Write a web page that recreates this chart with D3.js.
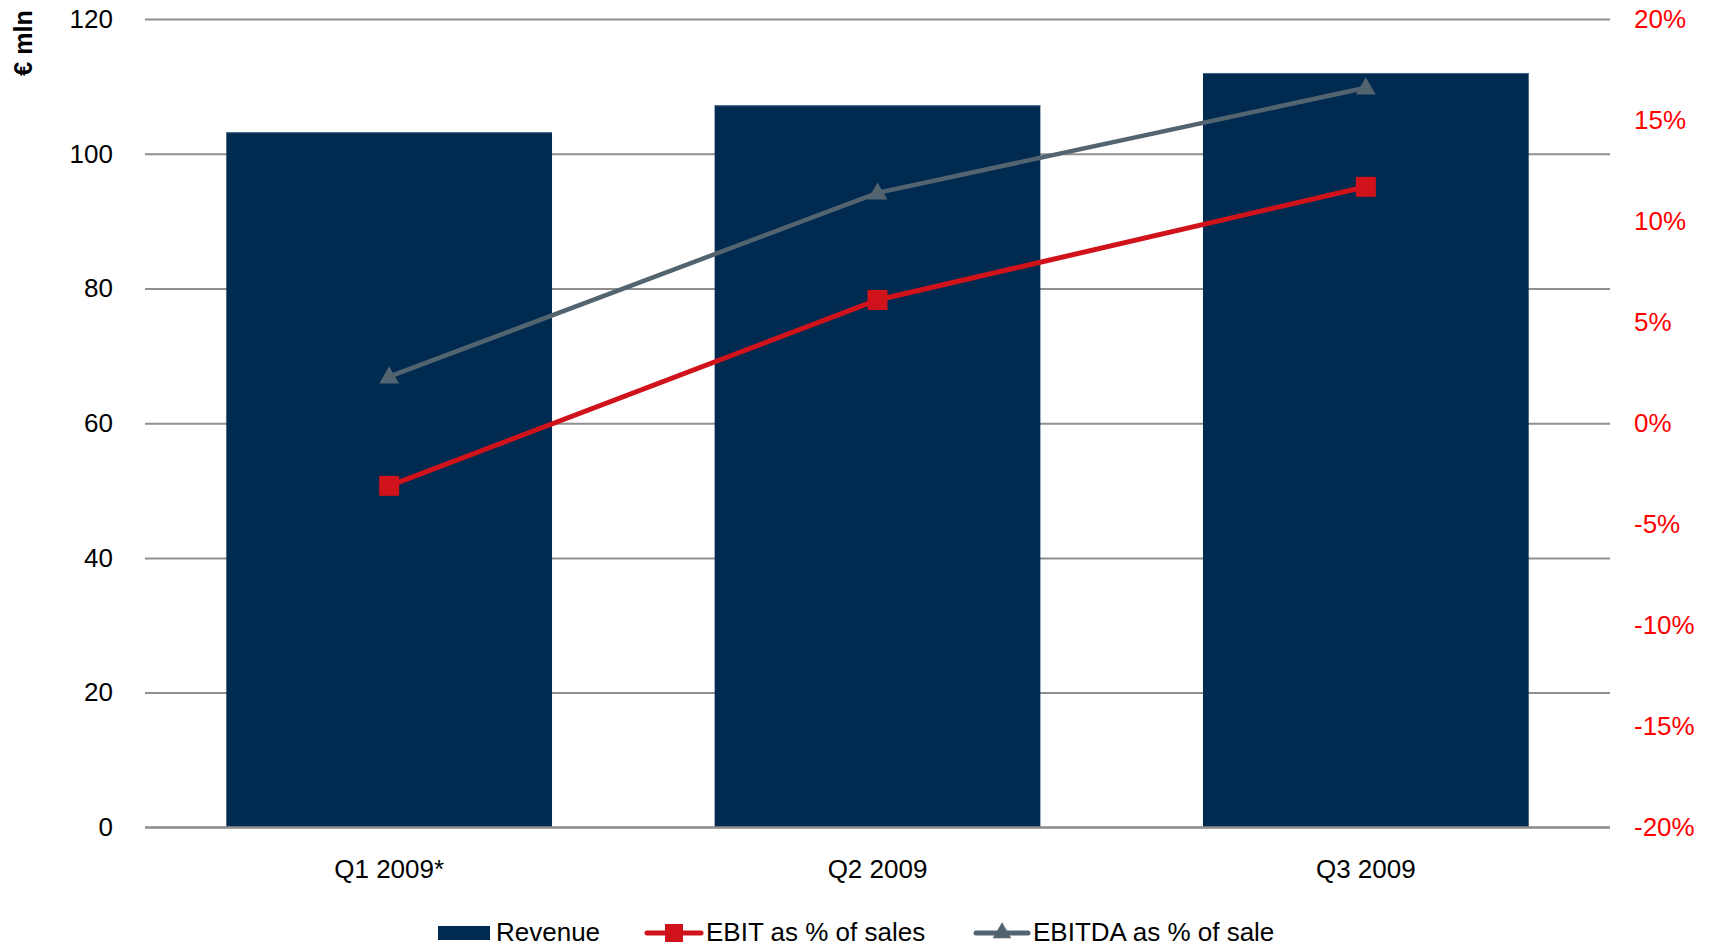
<!DOCTYPE html>
<html>
<head>
<meta charset="utf-8">
<script src="https://cdn.jsdelivr.net/npm/d3@7"></script>
<style>
  body { margin: 0; background: #fff; }
  svg { display: block; font-family: "Liberation Sans", Arial, sans-serif; }
  .grid line { stroke: #8f8f8f; stroke-width: 2; }
  .grid text { fill: #000; font-size: 26px; }
  .right text { fill: #ff0000; font-size: 26px; }
  .x-axis text { fill: #000; font-size: 26px; }
  .legend text { font-size: 26px; fill: #000; }
</style>
</head>
<body>
<svg width="1715" height="947"></svg>
<script>
const quarters = ["Q1 2009*", "Q2 2009", "Q3 2009"]
const revenue = [103.2, 107.2, 112.0]
const ebitPct = [-3.1, 6.1, 11.7]
const ebitdaPct = [2.3, 11.4, 16.6]
const leftTicks = [0, 20, 40, 60, 80, 100, 120]
const rightTicks = [-20, -15, -10, -5, 0, 5, 10, 15, 20]
const seriesNames = ["Revenue", "EBIT as % of sales", "EBITDA as % of sale"]

const svg = d3.select("svg")

const plotLeft = 145, plotRight = 1610, plotTop = 19.1, plotBottom = 827.3
const barColor = "#002a50"
const ebitColor = "#d0121b"
const ebitdaColor = "#536471"

const scaleX = d3.scaleBand()
  .domain(quarters)
  .range([plotLeft, plotRight])
  .paddingInner(0.333)
  .paddingOuter(0.1665)

const scaleY = d3.scaleLinear()
  .domain([0, 120])
  .range([plotBottom, plotTop])

const scaleP = d3.scaleLinear()
  .domain([-20, 20])
  .range([plotBottom, plotTop])

// grid + left labels
const axisY = d3.axisLeft(scaleY)
  .tickValues(leftTicks)
  .tickSizeInner(-(plotRight - plotLeft))
  .tickSizeOuter(0)
  .tickPadding(32)

svg.append("g")
  .attr("class", "grid")
  .attr("transform", `translate(${plotLeft}, 0)`)
  .call(axisY)
  .call(g => g.select(".domain").remove())

// right labels
const axisP = d3.axisRight(scaleP)
  .tickValues(rightTicks)
  .tickSize(0)
  .tickPadding(24)
  .tickFormat(d => d + "%")

svg.append("g")
  .attr("class", "right")
  .attr("transform", `translate(${plotRight}, 0)`)
  .call(axisP)
  .call(g => g.select(".domain").remove())

// bars
svg.append("g")
  .selectAll("rect")
  .data(revenue)
  .join("rect")
  .attr("x", (d, i) => scaleX(quarters[i]))
  .attr("y", d => scaleY(d))
  .attr("width", scaleX.bandwidth())
  .attr("height", d => scaleY(0) - scaleY(d))
  .attr("fill", barColor)

// light top edge of bars
svg.append("g")
  .selectAll("line")
  .data(revenue)
  .join("line")
  .attr("x1", (d, i) => scaleX(quarters[i]))
  .attr("x2", (d, i) => scaleX(quarters[i]) + scaleX.bandwidth())
  .attr("y1", d => scaleY(d) + 0.5)
  .attr("y2", d => scaleY(d) + 0.5)
  .attr("stroke", "#4d6a88")
  .attr("stroke-width", 1)

// baseline on top of bars
svg.append("line")
  .attr("x1", plotLeft).attr("x2", plotRight)
  .attr("y1", scaleY(0)).attr("y2", scaleY(0))
  .attr("stroke", "#8f8f8f")
  .attr("stroke-width", 2)

// x labels
const axisX = d3.axisBottom(scaleX)
  .tickSize(0)
  .tickPadding(32)

svg.append("g")
  .attr("class", "x-axis")
  .attr("transform", `translate(0, ${plotBottom})`)
  .call(axisX)
  .call(g => g.select(".domain").remove())

const cx = i => scaleX(quarters[i]) + scaleX.bandwidth() / 2

const line = d3.line()
  .x((d, i) => cx(i))
  .y(d => scaleP(d))

// EBITDA line
svg.append("path")
  .datum(ebitdaPct)
  .attr("d", line)
  .attr("fill", "none")
  .attr("stroke", ebitdaColor)
  .attr("stroke-width", 4.5)

const tri = d3.symbol().type(d3.symbolTriangle).size(170)

svg.append("g")
  .selectAll("path")
  .data(ebitdaPct)
  .join("path")
  .attr("d", tri)
  .attr("transform", (d, i) => `translate(${cx(i)}, ${scaleP(d) + 1})`)
  .attr("fill", ebitdaColor)

// EBIT line
svg.append("path")
  .datum(ebitPct)
  .attr("d", line)
  .attr("fill", "none")
  .attr("stroke", ebitColor)
  .attr("stroke-width", 5)

svg.append("g")
  .selectAll("rect")
  .data(ebitPct)
  .join("rect")
  .attr("x", (d, i) => cx(i) - 10)
  .attr("y", d => scaleP(d) - 10)
  .attr("width", 20)
  .attr("height", 20)
  .attr("fill", ebitColor)

// y title
svg.append("text")
  .attr("transform", "translate(32, 43) rotate(-90)")
  .attr("text-anchor", "middle")
  .attr("font-size", 25)
  .attr("font-weight", "bold")
  .text("€ mln")

// legend
const legend = svg.append("g").attr("class", "legend")
const legendY = 933

legend.append("rect")
  .attr("x", 438).attr("y", legendY - 7)
  .attr("width", 52).attr("height", 14)
  .attr("fill", barColor)
legend.append("text")
  .attr("x", 496).attr("y", legendY + 8)
  .text(seriesNames[0])

legend.append("line")
  .attr("x1", 647).attr("x2", 701)
  .attr("y1", legendY).attr("y2", legendY)
  .attr("stroke", ebitColor).attr("stroke-width", 5)
  .attr("stroke-linecap", "round")
legend.append("rect")
  .attr("x", 665).attr("y", legendY - 9)
  .attr("width", 18).attr("height", 18)
  .attr("fill", ebitColor)
legend.append("text")
  .attr("x", 706).attr("y", legendY + 8)
  .text(seriesNames[1])

legend.append("line")
  .attr("x1", 976).attr("x2", 1028)
  .attr("y1", legendY).attr("y2", legendY)
  .attr("stroke", ebitdaColor).attr("stroke-width", 5)
  .attr("stroke-linecap", "round")
legend.append("path")
  .attr("d", d3.symbol().type(d3.symbolTriangle).size(150))
  .attr("transform", `translate(1002, ${legendY})`)
  .attr("fill", ebitdaColor)
legend.append("text")
  .attr("x", 1033).attr("y", legendY + 8)
  .text(seriesNames[2])
</script>
</body>
</html>
